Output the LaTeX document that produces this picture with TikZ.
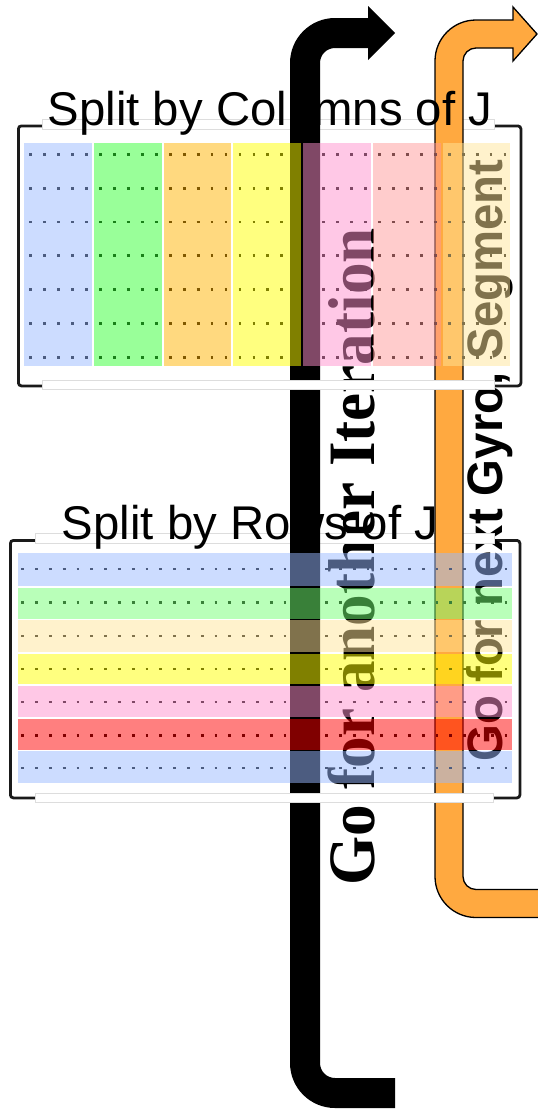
\documentclass[tikz,border=0pt]{standalone}
\usepackage{fontspec}
\setmainfont{Liberation Sans}
\newfontfamily\tnr{Liberation Serif}
\definecolor{colBlue}{RGB}{153,185,255}
\definecolor{colGreen}{RGB}{51,255,51}
\definecolor{colOrange}{RGB}{255,179,0}
\definecolor{colYellow}{RGB}{255,255,0}
\definecolor{colPink}{RGB}{255,145,205}
\definecolor{colLRed}{RGB}{255,153,153}
\definecolor{colCream}{RGB}{255,229,153}
\definecolor{rowGreen}{RGB}{115,255,115}
\definecolor{rowRed}{RGB}{255,0,0}
\definecolor{arrOrange}{RGB}{255,169,64}
\definecolor{frameCol}{RGB}{26,26,26}
\definecolor{barEdge}{RGB}{221,221,221}
\begin{document}
\begin{tikzpicture}[x=1bp,y=1bp,
  framebox/.style={draw=frameCol, line width=2.8bp, rounded corners=3bp, inner sep=0, anchor=north west},
  whitebar/.style={fill=white, draw=barEdge, line width=0.9bp, inner sep=0, anchor=north west},
  strip/.style={fill opacity=0.5, draw=none, inner sep=0, anchor=north west},
  dotrow/.style={line width=2.8bp},
  titletext/.style={font=\fontsize{47.5}{51}\selectfont, anchor=base, inner sep=0},
  bigtext/.style={rotate=90, anchor=base, inner sep=0}]
\useasboundingbox (0,0) rectangle (538,-1110);

% frames
\node[framebox, minimum width=502.5bp, minimum height=260bp] (frcols) at (17,-124.5) {};
\node[framebox, minimum width=509.5bp, minimum height=257.5bp] (frrows) at (9,-539) {};

% big rotated texts
\node[bigtext] (iter) at (374.5,-557) {\tnr\bfseries\fontsize{66.5}{70}\selectfont\scalebox{0.953}[1]{Go for another Iteration}};
\node[bigtext] (gyro) at (502,-460.5) {\bfseries\fontsize{50}{54}\selectfont\scalebox{0.95}[1]{Go for next Gyro, Segment}};

% top bars
\node[whitebar, minimum width=452bp, minimum height=10bp] (tbcols) at (42,-119) {};
\node[whitebar, minimum width=459bp, minimum height=10bp] (tbrows) at (35,-533) {};

% arrows
\fill[black] (395,-1078) -- (335,-1078) arc[start angle=270, end angle=180, radius=15]
  -- (320,-63) arc[start angle=180, end angle=90, radius=15]
  -- (368,-48) -- (368,-60) -- (395,-33) -- (368,-6) -- (368,-18) -- (335,-18)
  arc[start angle=90, end angle=180, radius=45]
  -- (290,-1063) arc[start angle=180, end angle=270, radius=45]
  -- (395,-1108) -- cycle;
\filldraw[fill=arrOrange, draw=black, line width=1.3bp, line join=miter]
  (539,-889.5) -- (476,-889.5) arc[start angle=270, end angle=180, radius=13]
  -- (463,-61) arc[start angle=180, end angle=90, radius=13]
  -- (513,-48) -- (513,-61) -- (537,-34) -- (513,-7) -- (513,-20) -- (476,-20)
  arc[start angle=90, end angle=180, radius=41]
  -- (435,-876.5) arc[start angle=180, end angle=270, radius=41]
  -- (539,-917.5) -- cycle;

% titles
\node[titletext] (tcols) at (270,-125) {Split by Columns of J};
\node[titletext] (trows) at (250,-539) {Split by Rows of J};

% dots (columns)
\foreach \yy in {154.3,188.13,221.96,255.79,289.62,323.45,357.28}
  \draw[dotrow, dash pattern=on 2.8bp off 11.15bp] (29.3,-\yy) -- (507,-\yy);
% dots (rows)
\foreach \yy in {569,602.5,636,669,702,735.5,768}
  \draw[dotrow, dash pattern=on 2.8bp off 11.01bp] (21.3,-\yy) -- (508,-\yy);

% column strips
\foreach \i/\c in {0/colBlue,1/colGreen,2/colOrange,3/colYellow,4/colPink,5/colLRed,6/colCream}
  \node[strip, fill=\c, minimum width=67.7bp, minimum height=223bp] (col\i) at ({24+69.75*\i},-143) {};

% row strips
\foreach \t/\h/\c [count=\k] in {552.3/33.4/colBlue,587.3/31.2/rowGreen,620/31.7/colCream,653.3/30.7/colYellow,685.7/31/colPink,719/30.3/rowRed,751/31.7/colBlue}
  \node[strip, fill=\c, minimum width=494.2bp, minimum height=\h bp] (row\k) at (17.5,-\t) {};

% bottom bars
\node[whitebar, minimum width=452bp, minimum height=9bp] (bbcols) at (42,-380) {};
\node[whitebar, minimum width=458bp, minimum height=9bp] (bbrows) at (35,-792.5) {};
\end{tikzpicture}
\end{document}
